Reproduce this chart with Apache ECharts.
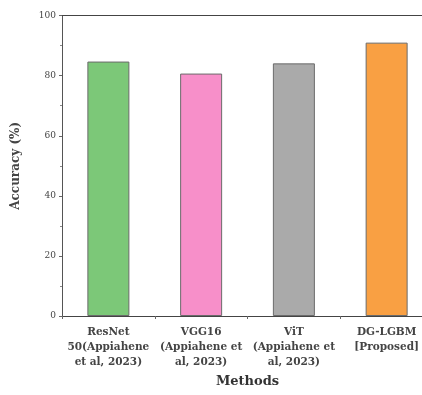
<!DOCTYPE html>
<html><head><meta charset="utf-8">
<script src="https://cdn.jsdelivr.net/npm/echarts@6/dist/echarts.min.js"></script>
<style>html,body{margin:0;padding:0;background:#fff}#c{width:422px;height:395px}</style>
</head><body><div id="c"></div>
<script>
var categories = ["ResNet\n50(Appiahene\net al, 2023)", "VGG16\n(Appiahene et\nal, 2023)", "ViT\n(Appiahene et\nal, 2023)", "DG-LGBM\n[Proposed]"];
var accuracy = [84.7, 80.7, 84.1, 91.0];
var barColors = ["#7cc878", "#f78fc9", "#aaaaaa", "#f9a043"];
var yTicks = [0, 20, 40, 60, 80, 100];

var font = "'DejaVu Serif', 'Liberation Serif', serif";
var chart = echarts.init(document.getElementById('c'));
chart.setOption({
  animation: false,
  backgroundColor: '#fff',
  grid: { left: 62, top: 15.6, right: -11, bottom: 79, containLabel: false, outerBoundsMode: 'none' },
  xAxis: [{
    type: 'category', data: categories, boundaryGap: true,
    name: 'Methods', nameLocation: 'middle', nameGap: 58,
    nameTextStyle: { fontFamily: font, fontSize: 13, fontWeight: 'bold', color: '#333' },
    axisLine: { lineStyle: { color: '#444', width: 1 } },
    axisTick: { show: true, length: 3, alignWithLabel: false, lineStyle: { color: '#666' } },
    axisLabel: { interval: 0, fontFamily: font, fontSize: 10.5, fontWeight: 'bold', color: '#444', lineHeight: 15, margin: 9 }
  }, {
    type: 'category', data: categories, position: 'top',
    axisLine: { lineStyle: { color: '#444', width: 1 } },
    axisTick: { show: false }, axisLabel: { show: false }
  }],
  yAxis: {
    type: 'value', min: 0, max: 100, interval: 20,
    name: 'Accuracy (%)', nameLocation: 'middle', nameGap: 40,
    nameTextStyle: { fontFamily: font, fontSize: 12, fontWeight: 'bold', color: '#444' },
    axisLine: { show: true, lineStyle: { color: '#555', width: 1 } },
    axisTick: { show: true, length: 3, lineStyle: { color: '#666' } },
    minorTick: { show: true, splitNumber: 2, length: 2, lineStyle: { color: '#888' } },
    splitLine: { show: false },
    axisLabel: { fontFamily: font, fontSize: 9, color: '#444', margin: 6,
      formatter: function (v) { return yTicks.indexOf(v) >= 0 ? String(v) : ''; } }
  },
  series: [{
    type: 'bar', barWidth: 42, xAxisIndex: 0,
    data: accuracy.map(function (v, i) {
      return { value: v, itemStyle: { color: barColors[i], borderColor: '#6b6b6b', borderWidth: 1 } };
    })
  }]
});
</script></body></html>
